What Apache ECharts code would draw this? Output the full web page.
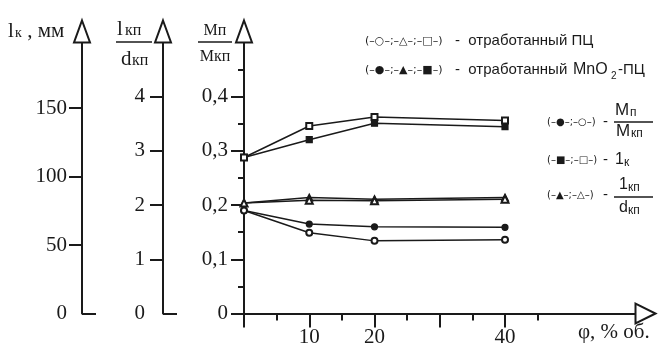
<!DOCTYPE html>
<html>
<head>
<meta charset="utf-8">
<script src="https://cdn.jsdelivr.net/npm/echarts@6/dist/echarts.min.js"></script>
<style>
  html, body { margin: 0; padding: 0; background: #fff; }
  #chart { width: 658px; height: 349px; }
</style>
</head>
<body>
<div id="chart"></div>
<script>
// φ, % об.
const phi = [0, 10, 20, 40];
// lк, мм
const lkSpent = [114, 137, 143.5, 141];
const lkMnO2 = [114, 127, 139, 136.5];
// lкп / dкп
const ldSpent = [2.04, 2.09, 2.08, 2.11];
const ldMnO2 = [2.04, 2.14, 2.11, 2.14];
// Mп / Mкп
const mSpent = [0.19, 0.149, 0.134, 0.136];
const mMnO2 = [0.19, 0.165, 0.160, 0.159];

// подписи и штрихи осей
const xLabels = [10, 20, 40];
const xMajor = [0, 10, 20, 30, 40];
const xMinor = [5, 15, 25, 35, 45];
const mLabels = [0, 0.1, 0.2, 0.3, 0.4];
const mMinor = [0.05, 0.15, 0.25, 0.35, 0.45];
const ldLabels = [0, 1, 2, 3, 4];
const ldTicks = [1, 2, 3, 4];
const lkLabels = [0, 50, 100, 150];
const lkTicks = [50, 100, 150];

const ink = '#1a1a1a';
const serif = '"Liberation Serif", "DejaVu Serif", serif';
const sans = '"Liberation Sans", Arial, sans-serif';
const symFont = '"DejaVu Sans", sans-serif';

function pair(ys) {
  return phi.map((x, i) => [x, ys[i]]);
}

const arrowY = {
  show: true,
  onZero: false,
  lineStyle: { color: ink, width: 2 },
  symbol: ['none', 'emptyTriangle'],
  symbolSize: [16, 22],
  symbolOffset: [0, 11]
};

function mainAxis(offset, max, ticks, labels, margin, fmt) {
  return {
    type: 'value', position: 'left', offset: offset, min: 0, max: max,
    axisLine: arrowY,
    axisTick: { show: true, customValues: ticks, length: 13, lineStyle: { color: ink, width: 2 } },
    axisLabel: {
      customValues: labels, margin: margin, color: ink,
      fontFamily: serif, fontSize: 21, formatter: fmt
    },
    splitLine: { show: false }
  };
}

function tickAxis(offset, max, ticks, len, inside) {
  return {
    type: 'value', position: 'left', offset: offset, min: 0, max: max,
    axisLine: { show: false, onZero: false },
    axisTick: { show: true, inside: inside, customValues: ticks, length: len, lineStyle: { color: ink, width: 2 } },
    axisLabel: { show: false },
    splitLine: { show: false }
  };
}

function lineSeries(yIdx, data, symbol, size) {
  return {
    type: 'line', xAxisIndex: 0, yAxisIndex: yIdx, data: pair(data),
    symbol: symbol, symbolSize: size,
    itemStyle: { color: ink, borderColor: ink, borderWidth: 1.2 },
    lineStyle: { color: ink, width: 1.5 },
    z: symbol.indexOf('empty') === 0 ? 4 : 3
  };
}

function txt(x, y, text, font, align) {
  return {
    type: 'text', x: x, y: y,
    style: { text: text, font: font, fill: ink, align: align || 'left', verticalAlign: 'middle' }
  };
}

function bar(x1, x2, y) {
  return { type: 'line', shape: { x1: x1, y1: y, x2: x2, y2: y }, style: { stroke: ink, lineWidth: 1.5 } };
}

const chart = echarts.init(document.getElementById('chart'));

chart.setOption({
  animation: false,
  backgroundColor: '#fff',
  grid: { left: 244, right: 22.5, top: 42.5, bottom: 35.5, containLabel: false },
  xAxis: [
    {
      type: 'value', position: 'bottom', min: 0, max: 60,
      axisLine: {
        show: true, onZero: false,
        lineStyle: { color: ink, width: 2 },
        symbol: ['none', 'emptyTriangle'],
        symbolSize: [20, 20],
        symbolOffset: [0, 10]
      },
      axisTick: { show: true, customValues: xMajor, length: 14, lineStyle: { color: ink, width: 2 } },
      axisLabel: { customValues: xLabels, margin: 13, color: ink, fontFamily: serif, fontSize: 21 },
      splitLine: { show: false }
    },
    {
      type: 'value', position: 'bottom', min: 0, max: 60,
      axisLine: { show: false, onZero: false },
      axisTick: { show: true, customValues: xMinor, length: 7, lineStyle: { color: ink, width: 2 } },
      axisLabel: { show: false },
      splitLine: { show: false }
    }
  ],
  yAxis: [
    mainAxis(0, 0.5, mLabels, mLabels, 16, v => String(v).replace('.', ',')),
    tickAxis(0, 0.5, mMinor, 6, false),
    mainAxis(81, 5, ldTicks, ldLabels, 18),
    tickAxis(81, 5, [0], 14, true),
    mainAxis(162, 198, lkTicks, lkLabels, 15),
    tickAxis(162, 198, [0], 14, true)
  ],
  series: [
    lineSeries(4, lkMnO2, 'rect', 6),
    lineSeries(4, lkSpent, 'emptyRect', 6),
    lineSeries(2, ldMnO2, 'triangle', 7),
    lineSeries(2, ldSpent, 'emptyTriangle', 7),
    lineSeries(0, mMnO2, 'circle', 6),
    lineSeries(0, mSpent, 'emptyCircle', 6)
  ],
  graphic: [
    // заголовки осей
    txt(8, 31, 'l', '21px ' + serif),
    txt(15, 33, 'к', '14px ' + serif),
    txt(22, 31, ' , мм', '21px ' + serif),

    txt(117, 29, 'l', '21px ' + serif),
    txt(125, 31, 'кп', '16px ' + serif),
    bar(116, 152, 42),
    txt(121, 59, 'd', '21px ' + serif),
    txt(132, 61, 'кп', '16px ' + serif),

    txt(215, 31, 'Mп', '16px ' + serif, 'center'),
    bar(198, 232, 42),
    txt(215, 57, 'Mкп', '16px ' + serif, 'center'),

    txt(578, 332, 'φ, % об.', '21px ' + serif),

    // легенда сверху
    txt(365, 41, '(–○–;–△–;–□–)', '11px ' + symFont),
    txt(455, 41, '-  отработанный ПЦ', '15px ' + sans),
    txt(365, 70, '(–●–;–▲–;–■–)', '11px ' + symFont),
    txt(455, 70, '-  отработанный', '15px ' + sans),
    txt(573, 70, 'MnO', '16px ' + sans),
    txt(611, 76, '2', '10px ' + sans),
    txt(618, 70, '-ПЦ', '15px ' + sans),

    // легенда справа
    txt(547, 122, '(–●–;–○–)', '10px ' + symFont),
    txt(603, 122, '-', '15px ' + sans),
    txt(615, 110, 'M', '17px ' + sans),
    txt(630, 113, 'п', '12px ' + sans),
    bar(614, 653, 122),
    txt(616, 131, 'M', '17px ' + sans),
    txt(631, 134, 'кп', '12px ' + sans),

    txt(547, 160, '(–■–;–□–)', '10px ' + symFont),
    txt(603, 160, '-', '15px ' + sans),
    txt(615, 160, '1', '16px ' + sans),
    txt(624, 163, 'к', '12px ' + sans),

    txt(547, 195, '(–▲–;–△–)', '10px ' + symFont),
    txt(603, 195, '-', '15px ' + sans),
    txt(619, 185, '1', '16px ' + sans),
    txt(628, 188, 'кп', '12px ' + sans),
    bar(614, 653, 197),
    txt(619, 208, 'd', '16px ' + sans),
    txt(628, 211, 'кп', '12px ' + sans)
  ]
});
</script>
</body>
</html>
